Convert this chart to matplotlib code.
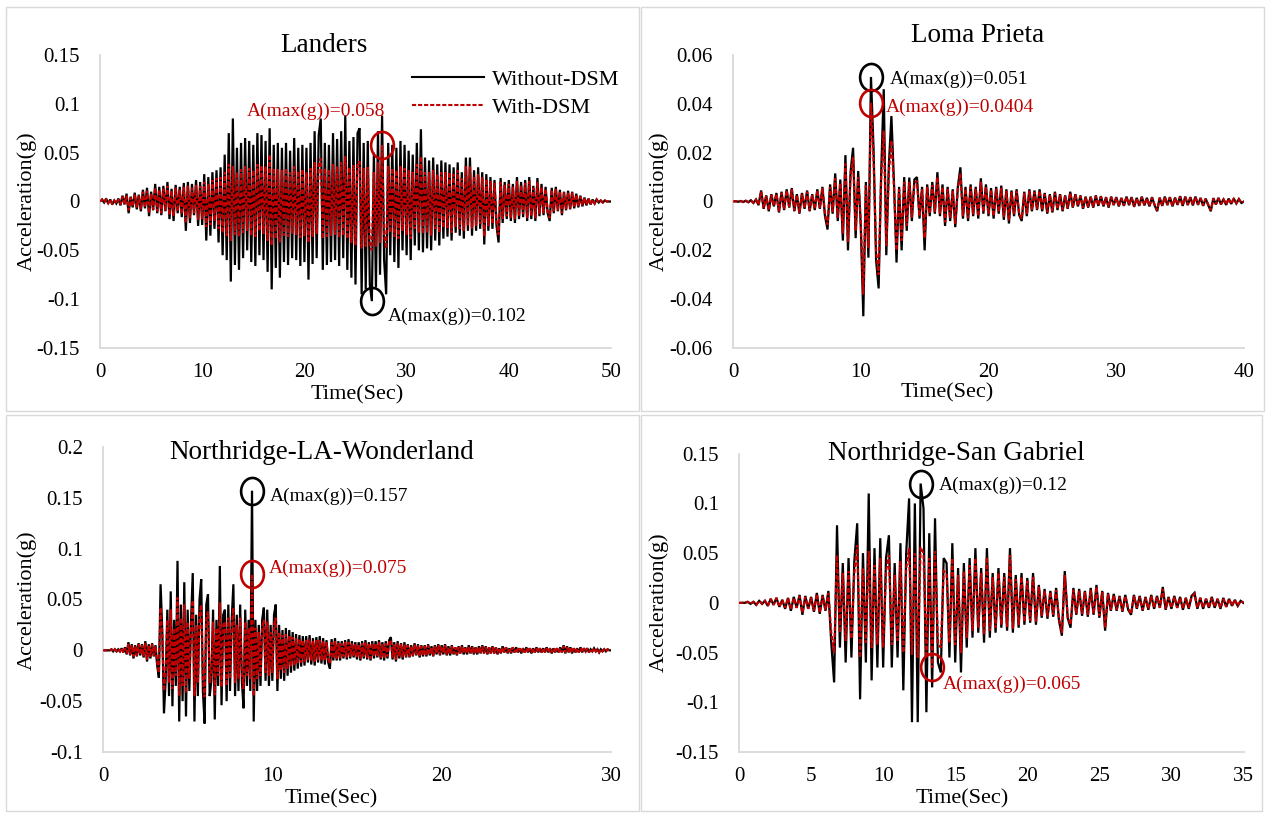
import numpy as np
import matplotlib
matplotlib.use("Agg")
import matplotlib.pyplot as plt
from matplotlib.lines import Line2D
from matplotlib.patches import Rectangle
from matplotlib.path import Path

plt.rcParams["font.family"] = ["Liberation Serif", "DejaVu Serif"]

# ---------------------------------------------------------------- data
# Landers, dt = 0.2 s, acceleration in milli-g
LANDERS_DT = 0.2
landers_without = [
    0, 2, -1, 3, -2, 2, -3, 1, -2, 3,
    -4, 6, -3, 8, -12, 5, -6, 9, -8, 7,
    -10, 12, -7, 14, -15, 10, -9, 18, -12, 15,
    -14, 16, -10, 20, -18, 13, -20, 17, -12, 15,
    -16, 19, -30, 20, -22, 18, -14, 22, -25, 20,
    -24, 28, -40, 25, -35, 30, -28, 32, -42, 35,
    -55, 48, -60, 70, -82, 85, -65, 55, -70, 60,
    -58, 65, -50, 62, -62, 58, -66, 70, -55, 68,
    -60, 62, -72, 75, -90, 58, -68, 60, -78, 55,
    -62, 60, -65, 52, -58, 65, -60, 55, -66, 58,
    -62, 55, -80, 60, -64, 72, -58, 68, 85, -70,
    60, -65, 58, -62, 70, -60, 64, -66, 72, -58,
    88, -70, 62, -78, 66, -85, 70, 75, -95, 60,
    -90, 62, -85, -102, 50, -88, 72, -75, 88, -60,
    -95, 60, -55, 58, -62, 55, -68, 62, -50, 58,
    -55, 52, -60, 48, -45, 60, -50, 74, -52, 45,
    -48, 42, -50, 45, -40, 38, -45, 42, -38, 40,
    -36, 38, -40, 35, -32, 40, -35, 30, -38, 45,
    -30, 45, -35, 32, -30, 35, -28, 30, -44, 28,
    -30, 25, -28, 22, -25, -42, 24, -22, 20, -18,
    22, -20, 18, -22, 25, -18, 20, -16, 22, -20,
    25, -18, 16, -20, 24, -15, 18, -14, 15, -12,
    -20, 14, -12, 15, -10, 12, -14, 10, -9, 11,
    -8, 10, -7, 8, -6, 6, -5, 4, -4, 3,
    -3, 2, -2, 2, -1, 1, -1, 1, 0, 0, 0,
]
landers_with = [
    0, 2, -1, 2, -2, 2, -2, 1, -2, 2,
    -3, 5, -3, 6, -9, 4, -5, 7, -6, 6,
    -8, 10, -6, 11, -12, 8, -8, 14, -10, 12,
    -12, 13, -9, 16, -14, 11, -15, 14, -10, 12,
    -13, 15, -22, 16, -17, 14, -12, 17, -19, 16,
    -18, 20, -26, 18, -24, 22, -20, 24, -28, 25,
    -32, 30, -35, 38, -40, 36, -34, 30, -36, 33,
    -32, 36, -30, 34, -35, 32, -36, 38, -30, 37,
    -33, 36, -40, 48, -45, 34, -38, 33, -42, 32,
    -35, 34, -36, 30, -33, 36, -34, 31, -37, 33,
    -35, 30, -42, 34, -36, 40, -33, 38, 44, -38,
    34, -36, 33, -35, 38, -34, 36, -37, 40, -35,
    46, -38, 35, -42, 37, -45, 39, 41, -48, 34,
    -46, 35, -44, -50, 30, -46, 40, -42, 58, -35,
    -48, 36, -32, 34, -36, 32, -38, 36, -30, 34,
    -34, 32, -38, 30, -28, 38, -32, 46, -33, 30,
    -32, 30, -35, 32, -28, 28, -32, 30, -27, 30,
    -27, 30, -32, 28, -26, 32, -28, 24, -30, 36,
    -25, 36, -28, 26, -25, 28, -23, 25, -36, 23,
    -25, 21, -23, 19, -21, -34, 20, -18, 17, -15,
    18, -17, 15, -18, 21, -15, 17, -13, 19, -17,
    21, -15, 14, -17, 20, -13, 15, -12, 13, -10,
    -17, 12, -10, 13, -9, 10, -12, 9, -8, 9,
    -7, 9, -6, 7, -5, 5, -4, 4, -3, 3,
    -3, 2, -2, 2, -1, 1, -1, 1, 0, 0, 0,
]

# Loma Prieta, dt = 0.2 s, acceleration in 1e-4 g
LOMA_DT = 0.2
loma_without = [
    0, 1, -1, 2, -2, 3, -3, 5, -6, 8,
    -15, 45, -30, 25, -40, 30, -20, 35, -45, 40,
    -35, 50, -25, 55, -40, 30, -50, 35, -30, 45,
    -40, 30, -35, 50, -30, 60, -60, -115, 70, -50,
    115, -80, 90, -160, 190, -200, 120, 220, -150, 125,
    -100, -470, 80, -230, 510, 220, -240, -356, 120, 460,
    -220, 150, 350, 80, -250, 60, -200, 100, -120, 98,
    -80, 90, 100, -70, 60, -200, 70, -60, 80, -50,
    120, -60, 70, -100, 60, -80, 50, -105, 60, 140,
    -70, 60, -80, 70, -60, 60, -70, 95, -50, 70,
    -60, 55, -70, 60, -50, 65, -75, 50, -90, 45,
    -60, 50, -55, -80, 40, -60, 50, -40, 45, -35,
    50, -40, 35, -50, 30, -45, 40, -35, 30, -40,
    25, -30, 40, -25, 30, -20, 25, -30, 20, -25,
    20, -25, 25, -18, 22, -20, 18, -25, 20, -15,
    18, -20, 15, -18, 20, -15, 18, -22, 15, -18,
    20, -16, 15, -20, 18, -15, -40, 16, -18, 20,
    -15, 18, -20, 16, -14, 22, -18, 20, -15, 18,
    -16, 20, -14, 15, -18, 12, -15, -40, 14, -12,
    15, -12, 10, -14, 12, -10, 12, -8, 10, -6, 0,
]
loma_with = [
    0, 1, -1, 2, -2, 3, -3, 4, -5, 7,
    -13, 40, -27, 22, -36, 27, -18, 31, -40, 36,
    -31, 45, -22, 49, -36, 27, -45, 31, -27, 40,
    -36, 27, -31, 45, -27, 55, -50, -95, 60, -42,
    95, -65, 75, -130, 155, -165, 100, 180, -120, 100,
    -80, -380, 65, -190, 404, 180, -200, -300, 100, 290,
    -180, 120, 250, 65, -200, 50, -160, 80, -100, 80,
    -65, 75, 85, -60, 50, -150, 60, -50, 68, -42,
    100, -50, 60, -85, 50, -68, 42, -90, 52, 115,
    -60, 52, -68, 60, -52, 52, -60, 80, -43, 60,
    -52, 48, -60, 52, -43, 55, -64, 43, -78, 39,
    -52, 43, -48, -70, 35, -52, 43, -35, 39, -30,
    44, -35, 30, -44, 27, -40, 35, -30, 27, -35,
    22, -27, 35, -22, 27, -18, 22, -27, 18, -22,
    18, -22, 22, -16, 20, -18, 16, -22, 18, -13,
    16, -18, 13, -16, 18, -13, 16, -20, 13, -16,
    18, -14, 13, -18, 16, -13, -36, 14, -16, 18,
    -13, 16, -18, 14, -12, 20, -16, 18, -13, 16,
    -14, 18, -12, 13, -16, 11, -13, -36, 12, -11,
    13, -11, 9, -12, 11, -9, 11, -7, 9, -5, 0,
]

# Northridge - LA Wonderland, dt = 0.1 s, acceleration in milli-g
LAW_DT = 0.1
law_without = [
    0, 0, 0, 0, 0, 1, -1, 1, -1, 1,
    -1, 2, -2, 3, -4, 8, -5, 6, -8, 5,
    -6, 7, -5, 6, -7, 9, -11, 6, -8, 7,
    -6, 5, -15, -27, 65, 20, -62, -30, 40, -45,
    58, -55, 30, -35, 88, -70, 45, -50, 67, -65,
    40, -40, 30, 76, -70, 35, -45, 50, 70, -40,
    -72, 45, 55, -45, -30, 40, -68, 30, -35, 83,
    -54, 35, 40, -50, 45, -40, 30, 65, -45, 35,
    -40, 45, -30, -57, 40, -35, 30, -40, 157, -70,
    30, -40, 25, -35, 30, 42, -30, 40, -35, 25,
    -30, 35, 45, -40, 25, -28, 20, -30, 22, -25,
    20, -22, 18, -20, 16, -18, 15, -16, 14, -15,
    14, -12, 15, -14, 12, -15, 13, -12, 14, -13,
    12, -14, 10, -12, -18, 11, -10, 12, -10, 9,
    -10, 9, -8, 10, -9, 11, -8, 9, -7, 8,
    -9, 8, -10, 9, -8, 10, -9, 8, -10, 9,
    -8, 9, -7, 10, -9, 8, -10, 9, -8, 10,
    13, -9, 8, -11, 9, -8, 7, -9, 8, -7,
    6, -7, 5, -6, 7, -5, 6, -7, 5, -6,
    5, -6, 6, -5, 4, -6, 5, -4, 6, -5,
    5, -4, 6, -5, 4, -5, 5, -4, 3, -5,
    4, -3, 5, -4, 3, -4, 5, -3, 4, -4,
    3, -4, 4, -3, 5, -3, 4, -4, 3, -3,
    4, -3, 3, -4, 2, -3, 4, -2, 3, -3,
    2, -3, 3, -2, 3, -2, 2, -3, 2, -2,
    3, -2, 2, -3, 2, -2, 3, -2, 2, -2,
    2, -2, 3, -2, 2, -3, 2, -2, 2, -2,
    3, -2, 5, -3, 4, -2, 3, -3, 2, -2,
    2, -2, 3, -2, 2, -1, 2, -2, 1, -1,
    2, -1, 1, -2, 1, -1, 1, -1, 1, 0, 0,
]
law_with = [
    0, 0, 0, 0, 0, 1, -1, 1, -1, 1,
    -1, 2, -2, 2, -3, 6, -4, 5, -6, 4,
    -5, 6, -4, 5, -6, 7, -9, 5, -6, 6,
    -5, 4, -12, -22, 42, 15, -40, -22, 30, -32,
    40, -38, 22, -25, 52, -45, 32, -35, 45, -42,
    28, -28, 22, 49, -45, 25, -32, 35, 45, -28,
    -46, 32, 38, -32, -22, 28, -44, 22, -25, 47,
    -36, 25, 28, -35, 32, -28, 22, 42, -32, 25,
    -28, 32, -22, -38, 28, -25, 22, -28, 75, -45,
    22, -28, 18, -25, 22, 30, -22, 28, -25, 18,
    -22, 25, 32, -28, 18, -20, 15, -22, 16, -18,
    15, -16, 13, -15, 12, -13, 11, -12, 10, -11,
    10, -9, 11, -10, 9, -11, 10, -9, 10, -10,
    9, -10, 8, -9, -13, 8, -8, 9, -8, 7,
    -8, 7, -6, 8, -7, 8, -6, 7, -6, 6,
    -7, 6, -8, 7, -6, 8, -7, 6, -8, 7,
    -6, 7, -6, 8, -7, 6, -8, 7, -6, 8,
    10, -7, 6, -9, 7, -6, 6, -7, 6, -6,
    5, -6, 4, -5, 6, -4, 5, -6, 4, -5,
    4, -5, 5, -4, 3, -5, 4, -3, 5, -4,
    4, -3, 5, -4, 3, -4, 4, -3, 3, -4,
    3, -3, 4, -3, 3, -3, 4, -3, 3, -3,
    3, -3, 3, -3, 4, -3, 3, -3, 3, -3,
    3, -3, 3, -3, 2, -3, 3, -2, 3, -2,
    2, -2, 3, -2, 2, -2, 2, -2, 2, -2,
    2, -2, 2, -2, 2, -2, 2, -2, 2, -2,
    2, -2, 2, -2, 2, -2, 2, -2, 2, -2,
    2, -2, 4, -2, 3, -2, 3, -2, 2, -2,
    2, -2, 2, -2, 2, -1, 2, -2, 1, -1,
    2, -1, 1, -2, 1, -1, 1, -1, 1, 0, 0,
]

# Northridge - San Gabriel, dt = 0.2 s, acceleration in milli-g
SG_DT = 0.2
sg_without = [
    0, 0, 0, 1, -1, 1, -2, 2, -1, 2,
    -3, 4, -2, 5, -4, 3, -6, 5, -8, 6,
    -5, 8, -12, 7, -6, 6, -9, 10, -11, 8,
    -8, 12, -40, -80, 78, -45, 40, -60, 45, -55,
    42, 80, -97, 50, -60, 110, -78, 55, -65, 65,
    -65, 45, 68, -65, 40, -55, 60, -88, 50, 105,
    -120, 100, -120, 120, 95, -110, 70, -85, 85, -60,
    -70, 45, 40, -55, 60, -60, 35, -70, 40, -45,
    45, -35, 55, -30, 35, -40, 55, -35, 30, -30,
    35, -25, 30, -28, 55, -30, 28, -25, 30, -22,
    25, -20, 30, -22, 18, -15, 14, -16, 12, -14,
    15, -18, -33, 32, -15, -25, 15, -12, 14, -13,
    12, -14, 15, -12, 18, -15, 12, -28, 10, -8,
    9, -8, 7, -9, 8, -7, -12, 8, -6, 7,
    -8, 6, -7, 8, -6, 7, -5, 16, -7, 6,
    -6, 7, -5, 6, -7, 5, -6, 7, 10, -6,
    5, -6, 4, -5, 6, -5, 4, -6, 5, -4,
    4, -3, 3, -3, 2, 0,
]
sg_with = [
    0, 0, 0, 1, -1, 1, -2, 2, -1, 2,
    -3, 4, -2, 5, -4, 3, -5, 5, -7, 5,
    -5, 7, -10, 6, -6, 5, -8, 9, -10, 7,
    -7, 10, -30, -50, 48, -30, 30, -38, 32, -36,
    30, 58, -55, 35, -40, 52, -45, 38, -42, 45,
    -45, 32, 48, -42, 28, -38, 42, -50, 35, 55,
    -52, 50, -55, 56, 50, -55, 45, -65, 52, -40,
    -45, 32, 30, -40, 45, -42, 28, -50, 32, -35,
    38, -28, 45, -25, 30, -32, 46, -28, 26, -25,
    30, -22, 26, -24, 48, -26, 24, -22, 26, -19,
    22, -18, 26, -19, 16, -13, 12, -14, 11, -12,
    13, -16, -30, 28, -13, -22, 13, -11, 12, -11,
    11, -12, 13, -11, 16, -13, 11, -25, 9, -7,
    8, -7, 6, -8, 7, -6, -11, 7, -5, 6,
    -7, 5, -6, 7, -5, 6, -5, 14, -6, 5,
    -5, 6, -5, 5, -6, 5, -5, 6, 9, -5,
    5, -5, 4, -5, 5, -4, 4, -5, 4, -4,
    4, -3, 3, -3, 2, 0,
]

# ---------------------------------------------------------------- layout
W, H = 1268, 814
BLACK = "#000000"
RED = "#c00000"
GRID = "#d9d9d9"
RED_DASH = (0, (2.0, 0.9))

fig = plt.figure(figsize=(W / 100, H / 100), dpi=100)


def fx(x):
    return x / W


def fy(y):
    return 1 - y / H


# panel frames
for (x0, y0, x1, y1) in [(6, 7, 639, 411), (641, 7, 1264, 411),
                         (6, 415, 639, 811), (641, 415, 1262, 811)]:
    fig.add_artist(Rectangle((fx(x0), fy(y1)), fx(x1) - fx(x0), fy(y0) - fy(y1),
                             transform=fig.transFigure, fill=False,
                             edgecolor=GRID, linewidth=1.0))

# ellipse marker for peak call-outs
_circ = Path.unit_circle()
ELLIPSE = Path(_circ.vertices * np.array([0.84, 1.0]), _circ.codes)

panels = [
    dict(name="Landers", dt=LANDERS_DT, scale=1e-3,
         without=landers_without, with_=landers_with,
         box=(100, 611, 55, 348), xmax=50, xticks=[0, 10, 20, 30, 40, 50],
         ylim=(-0.15, 0.15),
         yticks=[0.15, 0.1, 0.05, 0, -0.05, -0.1, -0.15],
         ylabels=["0.15", "0.1", "0.05", "0", "-0.05", "-0.1", "-0.15"],
         title=(324, 46), ylab=(27, 201), xlab=(357, 395),
         peak_black="min", peak_red="max",
         txt_black=("A(max(g))=0.102", 28.2, -0.118),
         txt_red=("A(max(g))=0.058", 14.4, 0.0928)),
    dict(name="Loma Prieta", dt=LOMA_DT, scale=1e-4,
         without=loma_without, with_=loma_with,
         box=(733, 1244, 55, 348), xmax=40, xticks=[0, 10, 20, 30, 40],
         ylim=(-0.06, 0.06),
         yticks=[0.06, 0.04, 0.02, 0, -0.02, -0.04, -0.06],
         ylabels=["0.06", "0.04", "0.02", "0", "-0.02", "-0.04", "-0.06"],
         title=(978, 36), ylab=(659, 201), xlab=(947, 393),
         peak_black="max", peak_red="max",
         txt_black=("A(max(g))=0.051", 12.3, 0.0501),
         txt_red=("A(max(g))=0.0404", 12.0, 0.0386)),
    dict(name="Northridge-LA-Wonderland", dt=LAW_DT, scale=1e-3,
         without=law_without, with_=law_with,
         box=(103, 611, 447, 752), xmax=30, xticks=[0, 10, 20, 30],
         ylim=(-0.1, 0.2),
         yticks=[0.2, 0.15, 0.1, 0.05, 0, -0.05, -0.1],
         ylabels=["0.2", "0.15", "0.1", "0.05", "0", "-0.05", "-0.1"],
         title=(322, 452), ylab=(27, 600), xlab=(331, 799),
         peak_black="max", peak_red="max",
         txt_black=("A(max(g))=0.157", 9.86, 0.1514),
         txt_red=("A(max(g))=0.075", 9.78, 0.0806)),
    dict(name="Northridge-San Gabriel", dt=SG_DT, scale=1e-3,
         without=sg_without, with_=sg_with,
         box=(739, 1243.5, 453.7, 752), xmax=35,
         xticks=[0, 5, 10, 15, 20, 25, 30, 35],
         ylim=(-0.15, 0.15),
         yticks=[0.15, 0.1, 0.05, 0, -0.05, -0.1, -0.15],
         ylabels=["0.15", "0.1", "0.05", "0", "-0.05", "-0.1", "-0.15"],
         title=(956, 453), ylab=(659, 602), xlab=(962, 799),
         peak_black="max", peak_red="min",
         txt_black=("A(max(g))=0.12", 13.84, 0.118),
         txt_red=("A(max(g))=0.065", 14.16, -0.0816)),
]

axes = []
for p in panels:
    l, r, t, b = p["box"]
    ax = fig.add_axes([fx(l), fy(b), fx(r) - fx(l), fy(t) - fy(b)])
    axes.append(ax)

    v_wo = np.asarray(p["without"], dtype=float) * p["scale"]
    v_w = np.asarray(p["with_"], dtype=float) * p["scale"]
    tt = np.arange(len(v_wo)) * p["dt"]

    ax.plot(tt, v_wo, color=BLACK, linewidth=1.6, solid_joinstyle="miter",
            zorder=2)
    ax.plot(tt, v_w, color=RED, linewidth=1.6, linestyle=RED_DASH,
            dash_joinstyle="miter", zorder=3)

    # peak call-outs
    ib = np.argmax(v_wo) if p["peak_black"] == "max" else np.argmin(v_wo)
    ir = np.argmax(v_w) if p["peak_red"] == "max" else np.argmin(v_w)
    ax.plot([tt[ib]], [v_wo[ib]], linestyle="none", marker=ELLIPSE,
            markersize=19.5, markerfacecolor="none", markeredgecolor=BLACK,
            markeredgewidth=1.9, zorder=5, clip_on=False)
    ax.plot([tt[ir]], [v_w[ir]], linestyle="none", marker=ELLIPSE,
            markersize=19.5, markerfacecolor="none", markeredgecolor=RED,
            markeredgewidth=1.9, zorder=5, clip_on=False)
    s, xt, yt = p["txt_black"]
    ax.text(xt, yt, s, color=BLACK, fontsize=14, ha="left", va="center",
            zorder=6)
    s, xt, yt = p["txt_red"]
    ax.text(xt, yt, s, color=RED, fontsize=14, ha="left", va="center",
            zorder=6)

    ax.set_xlim(0, p["xmax"])
    ax.set_ylim(*p["ylim"])
    ax.set_xticks(p["xticks"])
    ax.set_xticklabels([str(v) for v in p["xticks"]])
    ax.set_yticks(p["yticks"])
    ax.set_yticklabels(p["ylabels"])
    ax.tick_params(axis="x", length=0, pad=11, labelsize=15)
    ax.tick_params(axis="y", length=0, pad=14.4, labelsize=15)
    for side in ("top", "right"):
        ax.spines[side].set_visible(False)
    for side in ("left", "bottom"):
        ax.spines[side].set_color(GRID)
        ax.spines[side].set_linewidth(1.3)
    ax.set_facecolor("none")

    fig.text(fx(p["title"][0]), fy(p["title"][1]), p["name"], fontsize=19.5,
             ha="center", va="center")
    fig.text(fx(p["ylab"][0]), fy(p["ylab"][1]), "Acceleration(g)",
             fontsize=16, rotation=90, ha="center", va="center")
    fig.text(fx(p["xlab"][0]), fy(p["xlab"][1]), "Time(Sec)", fontsize=16,
             ha="center", va="center")

# legend in the Landers panel
handles = [Line2D([], [], color=BLACK, linewidth=1.5),
           Line2D([], [], color=RED, linewidth=1.5, linestyle=RED_DASH)]
axes[0].legend(handles, ["Without-DSM", "With-DSM"], loc="center left",
               bbox_to_anchor=(fx(412), fy(93.5)),
               bbox_transform=fig.transFigure, frameon=False, fontsize=16,
               handlelength=3.24, handletextpad=0.36, labelspacing=0.35,
               borderpad=0, borderaxespad=0)

fig.savefig("out.png", dpi=100)
